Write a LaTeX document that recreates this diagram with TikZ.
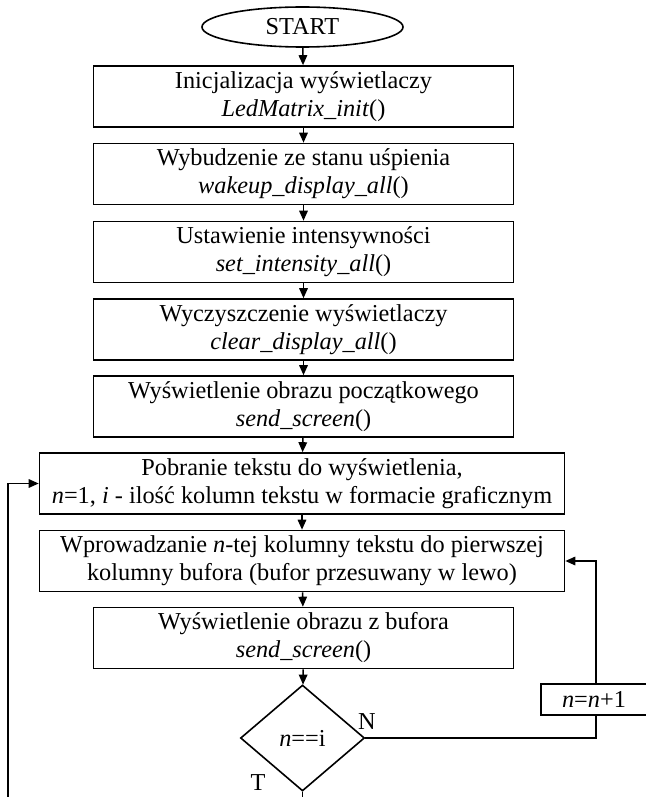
\documentclass[tikz,border=0pt]{standalone}
\usepackage{fontspec}
\setmainfont{Liberation Serif}
\usetikzlibrary{shapes.geometric,arrows.meta}
\begin{document}
\begin{tikzpicture}[x=1pt,y=-1pt,
  txt/.style={font=\fontsize{24.3}{28}\selectfont},
  box/.style={txt, draw, line width=1.6pt, rectangle, inner sep=0pt, align=center},
  narrow/.style={box, minimum width=420pt, minimum height=61pt},
  wide/.style={box, minimum width=525pt, minimum height=61pt},
  conn/.style={line width=1.6pt},
  arr/.style={conn, -{Triangle[length=10pt,width=8.5pt]}}]
\useasboundingbox (0,0) rectangle (645,797);
\node[txt, draw, line width=1.6pt, ellipse, minimum width=201pt, minimum height=40pt, inner sep=0pt] (start) at (302.5,27) {START};
\node[narrow] (b1) at (303.5,96.5) {Inicjalizacja wyświetlaczy\\\textit{LedMatrix\_init}()};
\node[narrow] (b2) at (303.5,174) {Wybudzenie ze stanu uśpienia\\\textit{wakeup\_display\_all}()};
\node[narrow] (b3) at (303.5,252) {Ustawienie intensywności\\\textit{set\_intensity\_all}()};
\node[narrow] (b4) at (303.5,329.5) {Wyczyszczenie wyświetlaczy\\\textit{clear\_display\_all}()};
\node[narrow] (b5) at (303.5,406.5) {Wyświetlenie obrazu początkowego\\\textit{send\_screen}()};
\node[wide] (b6) at (302,483.5) {Pobranie tekstu do wyświetlenia,\\\textit{n}=1, \textit{i} - ilość kolumn tekstu w formacie graficznym};
\node[wide] (b7) at (302,561) {Wprowadzanie \textit{n}-tej kolumny tekstu do pierwszej\\kolumny bufora (bufor przesuwany w lewo)};
\node[narrow] (b8) at (303.5,638) {Wyświetlenie obrazu z bufora\\\textit{send\_screen}()};
\node[txt, draw, line width=1.6pt, diamond, minimum width=124pt, minimum height=106pt, inner sep=0pt] (d) at (302.5,738) {\textit{n}==i};
\node[box, minimum width=106pt, minimum height=31pt] (inc) at (594,699.5) {\textit{n}=\textit{n}+1};
\node[txt] (lN) at (367,722) {N};
\node[txt] (lT) at (258,783) {T};
\coordinate (vx) at (596,0);
\draw[arr] (start) -- (b1);
\draw[arr] (b1) -- (b2);
\draw[arr] (b2) -- (b3);
\draw[arr] (b3) -- (b4);
\draw[arr] (b4) -- (b5);
\draw[arr] (b5) -- (b6);
\draw[arr] (b6) -- (b7);
\draw[arr] (b7) -- (b8);
\draw[arr] (b8) -- (d);
\draw[conn] (d.east) -| (inc.south -| vx);
\draw[arr] (inc.north -| vx) |- (b7.east);
\coordinate (dend) at (302.5,797);
\draw[conn] (d.south) -- (dend);
\coordinate (l1) at (8,797);
\draw[arr] (l1) |- (b6.west);
\end{tikzpicture}
\end{document}
